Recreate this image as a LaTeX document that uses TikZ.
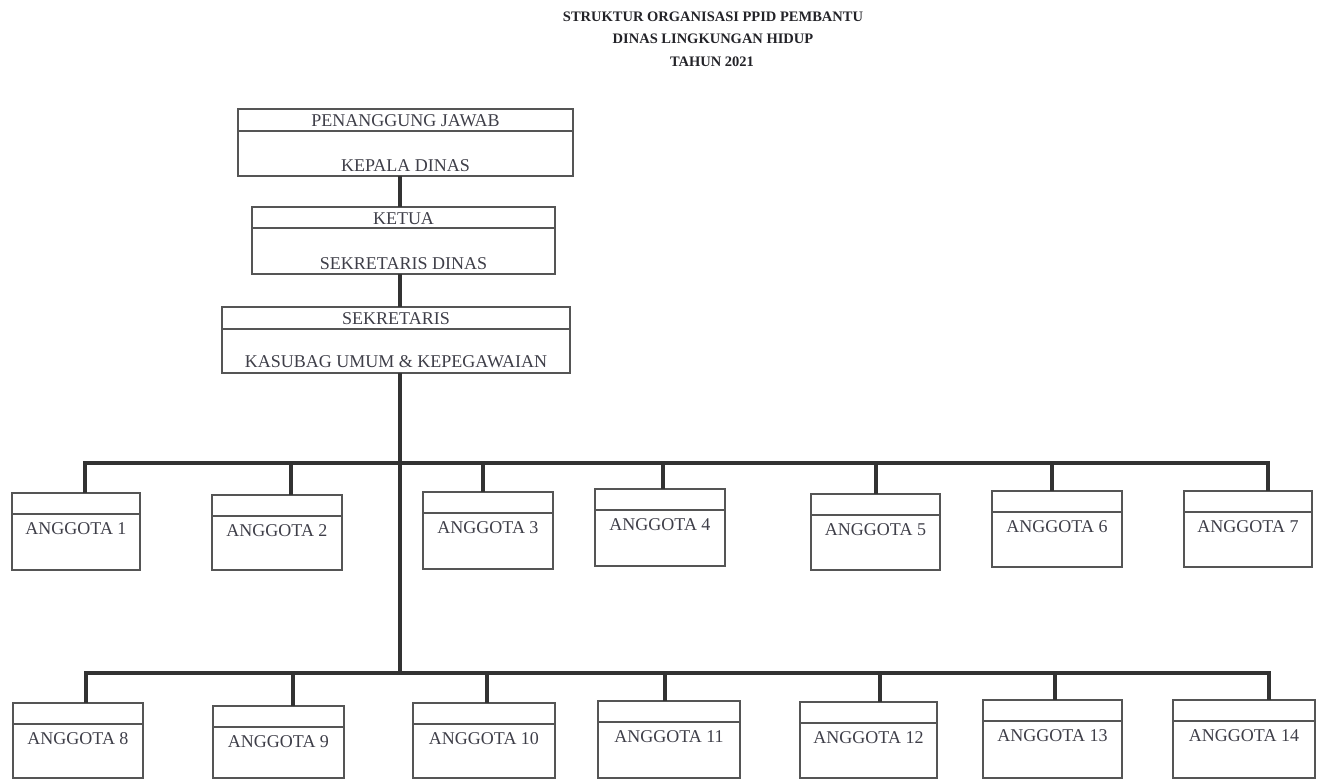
\documentclass[tikz,border=0pt]{standalone}
\usepackage{fontspec}
\setmainfont{Liberation Serif}
\definecolor{ink}{RGB}{62,62,72}
\definecolor{titleink}{RGB}{35,35,40}
\definecolor{boxline}{RGB}{85,85,85}
\definecolor{barcol}{RGB}{50,50,50}
\newcommand\memberbox[8]{%
  \node[box,minimum width=#4pt,minimum height=#5pt] (#1) at (#2,#3) {};
  \draw[divider] ([yshift=-21pt]#1.north west) -- ([yshift=-21pt]#1.north east);
  \node[lbl] (#1t) at ([yshift=-35pt]#1.north) {#8};
  \coordinate (#1d) at (#6,#7);
}
\begin{document}
\begin{tikzpicture}[x=1pt,y=-1pt,
  box/.style={draw=boxline,line width=1.3pt,anchor=north west,inner sep=0pt,outer sep=0pt},
  lbl/.style={text=ink,font=\fontsize{18}{20}\selectfont,inner sep=0pt,text height=12pt,text depth=0pt},
  ttl/.style={text=titleink,font=\bfseries\fontsize{14.5}{16}\selectfont,inner sep=0pt,text height=9.8pt,text depth=0pt},
  bar/.style={draw=barcol,line width=4pt,line join=miter},
  divider/.style={draw=boxline,line width=1.1pt}]
\useasboundingbox (0,0) rectangle (1320,780);

% title
\node[ttl] (t1) at (713,17) {STRUKTUR ORGANISASI PPID PEMBANTU};
\node[ttl] (t2) at (713,39) {DINAS LINGKUNGAN HIDUP};
\node[ttl] (t3) at (712,62) {TAHUN 2021};

% top boxes
\node[box,minimum width=335pt,minimum height=67pt] (b1) at (238,109) {};
\draw[divider] ([yshift=-22pt]b1.north west) -- ([yshift=-22pt]b1.north east);
\node[lbl] (b1a) at ([yshift=-11pt]b1.north) {PENANGGUNG JAWAB};
\node[lbl] (b1b) at ([yshift=11pt]b1.south) {KEPALA DINAS};

\node[box,minimum width=303pt,minimum height=67pt] (b2) at (252,207) {};
\draw[divider] ([yshift=-21pt]b2.north west) -- ([yshift=-21pt]b2.north east);
\node[lbl] (b2a) at ([yshift=-11pt]b2.north) {KETUA};
\node[lbl] (b2b) at ([yshift=11pt]b2.south) {SEKRETARIS DINAS};

\node[box,minimum width=348pt,minimum height=66pt] (b3) at (222,307) {};
\draw[divider] ([yshift=-22pt]b3.north west) -- ([yshift=-22pt]b3.north east);
\node[lbl] (b3a) at ([yshift=-11pt]b3.north) {SEKRETARIS};
\node[lbl] (b3b) at ([yshift=12pt]b3.south) {KASUBAG UMUM \& KEPEGAWAIAN};

% members row 1
\memberbox{a1}{12}{493}{128}{77}{85}{463}{ANGGOTA 1}
\memberbox{a2}{212}{495}{130}{75}{291}{463}{ANGGOTA 2}
\memberbox{a3}{423}{492}{130}{77}{483}{463}{ANGGOTA 3}
\memberbox{a4}{595}{489}{130}{77}{663}{463}{ANGGOTA 4}
\memberbox{a5}{811}{494}{129}{76}{876}{463}{ANGGOTA 5}
\memberbox{a6}{992}{491}{130}{76}{1052}{463}{ANGGOTA 6}
\memberbox{a7}{1184}{491}{128}{76}{1268}{463}{ANGGOTA 7}

% members row 2
\memberbox{a8}{13}{703}{130}{75}{86}{673}{ANGGOTA 8}
\memberbox{a9}{213}{706}{131}{72}{293}{673}{ANGGOTA 9}
\memberbox{a10}{413}{703}{142}{75}{487}{673}{ANGGOTA 10}
\memberbox{a11}{598}{701}{142}{77}{665}{673}{ANGGOTA 11}
\memberbox{a12}{800}{702}{137}{76}{880}{673}{ANGGOTA 12}
\memberbox{a13}{983}{700}{139}{78}{1055}{673}{ANGGOTA 13}
\memberbox{a14}{1173}{700}{142}{78}{1269}{673}{ANGGOTA 14}

% connectors
\coordinate (trunk) at (400,0);
\draw[bar] (b1.south -| trunk) -- (b2.north -| trunk);
\draw[bar] (b2.south -| trunk) -- (b3.north -| trunk);
\draw[bar] (b3.south -| trunk) -- (trunk |- a8d);

\draw[bar] (a1d |- a1.north) -- (a1d) -- (a7d) -- (a7d |- a7.north);
\foreach \i in {2,3,4,5,6} \draw[bar] (a\i d) -- (a\i d |- a\i.north);

\draw[bar] (a8d |- a8.north) -- (a8d) -- (a14d) -- (a14d |- a14.north);
\foreach \i in {9,10,11,12,13} \draw[bar] (a\i d) -- (a\i d |- a\i.north);
\end{tikzpicture}
\end{document}
